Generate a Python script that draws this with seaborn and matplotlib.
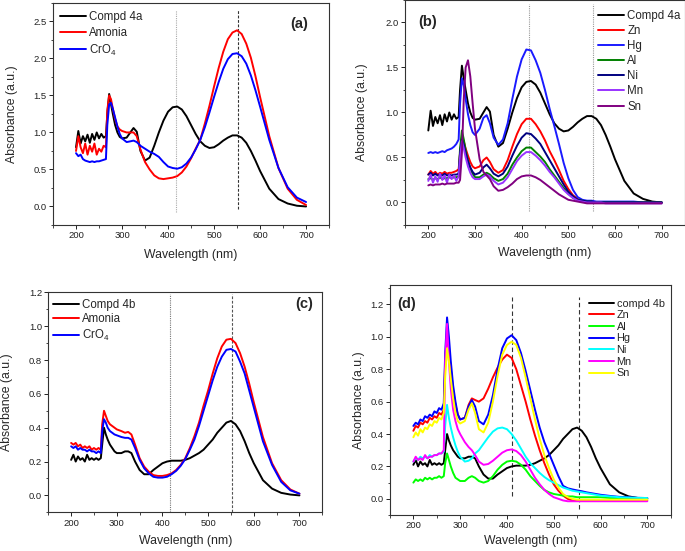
import seaborn as sns
import matplotlib.pyplot as plt
from matplotlib.ticker import MultipleLocator

# wavelength grid (nm) the spectra were read on
wl = [200, 205, 210, 215, 220, 225, 230, 235, 240, 245, 250, 255, 260, 265,
      268, 272, 276, 280, 285, 290, 295, 300, 310, 318, 325, 332, 340,
      350, 360, 370, 380, 390, 400, 410, 420, 430, 440, 450, 460, 470, 480, 490,
      500, 510, 520, 530, 540, 550, 560, 570, 580, 590, 600,
      620, 640, 660, 680, 700]

# ---- panel (a) / (b) : compound 4a
compd_4a = [0.80, 1.02, 0.85, 0.95, 0.88, 0.97, 0.86, 0.98, 0.90, 1.00, 0.92, 0.98, 0.93, 0.95,
            1.25, 1.52, 1.38, 1.25, 1.10, 1.00, 0.94, 0.92, 0.93, 1.00, 1.06, 1.01, 0.75,
            0.62, 0.66, 0.82, 1.00, 1.16, 1.28, 1.34, 1.35, 1.31, 1.22, 1.10, 0.98, 0.88, 0.82, 0.79,
            0.80, 0.84, 0.89, 0.93, 0.96, 0.96, 0.93, 0.86, 0.75, 0.62, 0.48,
            0.24, 0.10, 0.04, 0.01, 0.0]
a_amonia = [0.75, 0.95, 0.80, 0.72, 0.85, 0.70, 0.82, 0.74, 0.85, 0.70, 0.78, 0.74, 0.82, 0.80,
            1.30, 1.50, 1.45, 1.32, 1.18, 1.08, 1.04, 1.02, 1.00, 1.00, 1.00, 0.95, 0.77,
            0.60, 0.50, 0.42, 0.38, 0.37, 0.38, 0.39, 0.41, 0.46, 0.54, 0.65, 0.78, 0.90, 1.12, 1.36,
            1.62, 1.87, 2.09, 2.26, 2.35, 2.38, 2.33, 2.20, 2.01, 1.76, 1.48,
            0.95, 0.52, 0.24, 0.09, 0.02]
a_cro4 = [0.72, 0.68, 0.70, 0.64, 0.62, 0.61, 0.60, 0.61, 0.60, 0.61, 0.61, 0.62, 0.63, 0.64,
          1.10, 1.38, 1.40, 1.32, 1.20, 1.08, 0.98, 0.92, 0.87, 0.88, 0.89, 0.87, 0.82,
          0.78, 0.74, 0.71, 0.67, 0.60, 0.54, 0.52, 0.51, 0.53, 0.58, 0.66, 0.77, 0.90, 1.07, 1.27,
          1.48, 1.68, 1.86, 1.99, 2.06, 2.07, 2.03, 1.93, 1.77, 1.57, 1.35,
          0.90, 0.52, 0.26, 0.12, 0.06]

b_zn = [0.31, 0.35, 0.32, 0.34, 0.31, 0.33, 0.32, 0.34, 0.32, 0.33, 0.33, 0.34, 0.35, 0.37,
        0.55, 0.72, 0.68, 0.60, 0.52, 0.45, 0.40, 0.38, 0.40, 0.47, 0.50, 0.45, 0.37,
        0.33, 0.36, 0.47, 0.62, 0.76, 0.87, 0.93, 0.93, 0.87, 0.79, 0.69, 0.57, 0.47, 0.36, 0.24,
        0.15, 0.08, 0.04, 0.02, 0.01, 0.01, 0.0, 0.0, 0.0, 0.0, 0.0,
        0.0, 0.0, 0.0, 0.0, 0.0]
b_hg = [0.55, 0.56, 0.55, 0.56, 0.55, 0.56, 0.57, 0.56, 0.58, 0.59, 0.60, 0.62, 0.65, 0.70,
        1.10, 1.38, 1.30, 1.15, 0.98, 0.86, 0.78, 0.75, 0.82, 0.94, 0.97, 0.88, 0.72,
        0.64, 0.70, 0.88, 1.15, 1.40, 1.59, 1.70, 1.69, 1.58, 1.44, 1.25, 1.04, 0.85, 0.65, 0.44,
        0.27, 0.14, 0.06, 0.03, 0.02, 0.02, 0.01, 0.01, 0.01, 0.01, 0.01,
        0.01, 0.01, 0.0, 0.0, 0.0]
b_al = [0.26, 0.27, 0.25, 0.27, 0.26, 0.28, 0.26, 0.27, 0.27, 0.28, 0.27, 0.28, 0.28, 0.29,
        0.60, 0.80, 0.70, 0.58, 0.46, 0.38, 0.32, 0.28, 0.28, 0.31, 0.33, 0.31, 0.27,
        0.24, 0.26, 0.32, 0.42, 0.50, 0.57, 0.61, 0.61, 0.56, 0.51, 0.45, 0.37, 0.30, 0.23, 0.16,
        0.10, 0.05, 0.03, 0.02, 0.01, 0.01, 0.0, 0.0, 0.0, 0.0, 0.0,
        0.0, 0.0, 0.0, 0.0, 0.0]
b_ni = [0.31, 0.33, 0.30, 0.32, 0.30, 0.31, 0.30, 0.32, 0.30, 0.31, 0.30, 0.31, 0.31, 0.32,
        0.55, 0.70, 0.64, 0.55, 0.46, 0.39, 0.34, 0.31, 0.33, 0.39, 0.42, 0.38, 0.32,
        0.29, 0.32, 0.40, 0.52, 0.63, 0.72, 0.77, 0.76, 0.71, 0.65, 0.56, 0.47, 0.38, 0.29, 0.20,
        0.12, 0.07, 0.03, 0.02, 0.01, 0.01, 0.0, 0.0, 0.0, 0.0, 0.0,
        0.0, 0.0, 0.0, 0.0, 0.0]
b_mn = [0.24, 0.31, 0.22, 0.29, 0.23, 0.32, 0.25, 0.30, 0.22, 0.31, 0.26, 0.30, 0.24, 0.29,
        0.50, 0.68, 0.60, 0.50, 0.40, 0.33, 0.28, 0.26, 0.26, 0.29, 0.31, 0.29, 0.24,
        0.20, 0.22, 0.28, 0.37, 0.46, 0.52, 0.56, 0.56, 0.52, 0.47, 0.41, 0.34, 0.28, 0.21, 0.14,
        0.09, 0.05, 0.02, 0.01, 0.0, 0.0, 0.0, 0.0, -0.01, -0.01, -0.01,
        -0.01, -0.01, -0.01, -0.01, -0.01]
b_sn = [0.19, 0.20, 0.19, 0.20, 0.20, 0.20, 0.21, 0.20, 0.21, 0.21, 0.21, 0.21, 0.22, 0.22,
        0.25, 0.55, 1.15, 1.50, 1.58, 1.40, 1.10, 0.82, 0.48, 0.34, 0.30, 0.26, 0.18,
        0.13, 0.14, 0.17, 0.21, 0.26, 0.29, 0.30, 0.30, 0.28, 0.25, 0.21, 0.17, 0.13, 0.09, 0.06,
        0.03, 0.02, 0.01, 0.0, -0.01, -0.01, -0.01, -0.01, -0.01, -0.01, -0.01,
        -0.01, -0.01, -0.01, -0.01, -0.01]

# ---- panel (c) / (d) : compound 4b
compd_4b = [0.21, 0.24, 0.20, 0.23, 0.21, 0.22, 0.20, 0.24, 0.21, 0.22, 0.21, 0.22, 0.21, 0.22,
            0.30, 0.40, 0.36, 0.33, 0.30, 0.28, 0.26, 0.25, 0.25, 0.26, 0.26, 0.25, 0.20,
            0.15, 0.125, 0.125, 0.15, 0.17, 0.19, 0.20, 0.205, 0.205, 0.205, 0.21, 0.22, 0.235, 0.25, 0.27,
            0.30, 0.33, 0.37, 0.40, 0.43, 0.44, 0.42, 0.38, 0.32, 0.25, 0.19,
            0.09, 0.04, 0.015, 0.005, 0.0]
c_amonia = [0.31, 0.30, 0.31, 0.29, 0.30, 0.28, 0.29, 0.28, 0.29, 0.27, 0.28, 0.27, 0.28, 0.27,
            0.42, 0.50, 0.47, 0.44, 0.42, 0.41, 0.40, 0.39, 0.38, 0.37, 0.375, 0.36, 0.30,
            0.22, 0.17, 0.14, 0.12, 0.115, 0.115, 0.12, 0.13, 0.15, 0.18, 0.22, 0.28, 0.35, 0.43, 0.53,
            0.62, 0.72, 0.81, 0.88, 0.92, 0.925, 0.90, 0.84, 0.76, 0.66, 0.55,
            0.345, 0.19, 0.09, 0.035, 0.01]
c_cro4 = [0.29, 0.28, 0.29, 0.27, 0.28, 0.27, 0.27, 0.26, 0.27, 0.26, 0.26, 0.25, 0.26, 0.25,
          0.38, 0.45, 0.43, 0.40, 0.38, 0.37, 0.36, 0.355, 0.345, 0.34, 0.34, 0.33, 0.28,
          0.21, 0.16, 0.13, 0.11, 0.105, 0.105, 0.11, 0.125, 0.145, 0.175, 0.215, 0.27, 0.33, 0.41, 0.50,
          0.59, 0.68, 0.76, 0.82, 0.86, 0.865, 0.85, 0.79, 0.72, 0.62, 0.52,
          0.32, 0.18, 0.08, 0.03, 0.01]

d_zn = [0.42, 0.45, 0.44, 0.47, 0.46, 0.48, 0.47, 0.50, 0.49, 0.51, 0.50, 0.53, 0.52, 0.55,
        0.85, 1.02, 0.92, 0.80, 0.67, 0.58, 0.52, 0.49, 0.50, 0.58, 0.62, 0.61, 0.60,
        0.62, 0.68, 0.75, 0.81, 0.86, 0.89, 0.87, 0.80, 0.70, 0.60, 0.49, 0.39, 0.30, 0.22, 0.15,
        0.09, 0.05, 0.02, 0.0, -0.01, -0.01, -0.01, -0.01, -0.01, -0.01, -0.01,
        -0.01, -0.01, -0.01, -0.01, -0.01]
d_al = [0.10, 0.12, 0.11, 0.12, 0.11, 0.13, 0.12, 0.13, 0.12, 0.13, 0.13, 0.14, 0.13, 0.14,
        0.22, 0.28, 0.24, 0.20, 0.16, 0.13, 0.12, 0.11, 0.11, 0.13, 0.14, 0.13, 0.11,
        0.10, 0.11, 0.14, 0.18, 0.21, 0.23, 0.235, 0.23, 0.21, 0.18, 0.14, 0.11, 0.08, 0.055, 0.04,
        0.03, 0.025, 0.02, 0.015, 0.015, 0.01, 0.01, 0.01, 0.01, 0.01, 0.01,
        0.005, 0.005, 0.0, 0.0, 0.0]
d_hg = [0.45, 0.47, 0.46, 0.49, 0.48, 0.51, 0.50, 0.52, 0.51, 0.54, 0.53, 0.56, 0.55, 0.59,
        0.90, 1.12, 1.00, 0.85, 0.70, 0.60, 0.52, 0.49, 0.50, 0.57, 0.61, 0.57, 0.48,
        0.46, 0.52, 0.64, 0.80, 0.93, 0.99, 1.01, 0.98, 0.90, 0.79, 0.67, 0.55, 0.44, 0.35, 0.28,
        0.21, 0.14, 0.08, 0.065, 0.058, 0.052, 0.047, 0.04, 0.035, 0.03, 0.025,
        0.018, 0.012, 0.01, 0.006, 0.005]
d_ni = [0.23, 0.25, 0.24, 0.26, 0.25, 0.26, 0.25, 0.27, 0.26, 0.27, 0.27, 0.28, 0.28, 0.29,
        0.45, 0.58, 0.50, 0.44, 0.38, 0.33, 0.29, 0.26, 0.23, 0.235, 0.25, 0.28, 0.30,
        0.34, 0.38, 0.415, 0.435, 0.44, 0.43, 0.40, 0.36, 0.31, 0.26, 0.22, 0.19, 0.16, 0.135, 0.115,
        0.10, 0.085, 0.07, 0.06, 0.05, 0.045, 0.04, 0.035, 0.03, 0.025, 0.02,
        0.015, 0.01, 0.008, 0.006, 0.005]
d_mn = [0.23, 0.26, 0.24, 0.25, 0.24, 0.27, 0.25, 0.26, 0.26, 0.27, 0.27, 0.28, 0.28, 0.30,
        0.85, 1.08, 0.85, 0.68, 0.55, 0.48, 0.43, 0.40, 0.35, 0.32, 0.30, 0.27, 0.23,
        0.21, 0.215, 0.235, 0.26, 0.285, 0.30, 0.305, 0.295, 0.27, 0.23, 0.18, 0.13, 0.09, 0.055, 0.03,
        0.01, 0.0, -0.01, -0.015, -0.015, -0.015, -0.015, -0.015, -0.015, -0.015, -0.015,
        -0.015, -0.015, -0.015, -0.015, -0.015]
d_sn = [0.38, 0.41, 0.39, 0.43, 0.41, 0.44, 0.43, 0.46, 0.45, 0.48, 0.47, 0.50, 0.49, 0.53,
        0.75, 0.93, 0.85, 0.74, 0.62, 0.53, 0.48, 0.465, 0.48, 0.55, 0.59, 0.53, 0.43,
        0.41, 0.47, 0.60, 0.76, 0.89, 0.95, 0.97, 0.95, 0.87, 0.75, 0.62, 0.49, 0.37, 0.27, 0.19,
        0.12, 0.07, 0.03, 0.01, 0.0, -0.005, -0.005, -0.005, -0.005, -0.005, -0.005,
        -0.005, -0.005, -0.005, -0.005, -0.005]

# reference peak positions (nm)
vlines_a = [418, 551]
vlines_b = [415, 552]
vlines_c = [416, 553]
vlines_d = [411, 553]

sns.set_style('ticks')
plt.rcParams['font.family'] = ['Liberation Sans', 'DejaVu Sans']
plt.rcParams['mathtext.default'] = 'regular'

fig = plt.figure(figsize=(6.85, 5.51), dpi=100)

dots = (0, (1, 1))
fine = (0, (2.5, 1.5))
dash = (0, (4, 2.5))

panels = [
    dict(pos=[0.0774, 0.5917, 0.403, 0.403], ylim=(-0.25, 2.75), ymaj=0.5,
         series=[('Compd 4a', compd_4a, 'black'), ('Amonia', a_amonia, '#ff0000'),
                 ('CrO$_4$', a_cro4, '#0000ff')],
         vl=vlines_a, vly=[(-0.07, 2.65), (-0.03, 2.65)], vlc=['#aaaaaa', '#333333'], vls=[dots, fine],
         tag='(a)', tagxy=(0.891, 0.905), leg=(0.025, 0.964), ls=0.33, lfs=8.3,
         ylab=-0.126, xlab=-0.108),
    dict(pos=[0.5912, 0.5917, 0.4088, 0.4083], ylim=(-0.25, 2.25), ymaj=0.5,
         series=[('Compd 4a', compd_4a, 'black'), ('Zn', b_zn, '#ff0000'), ('Hg', b_hg, '#1a1aff'),
                 ('Al', b_al, '#008000'), ('Ni', b_ni, '#000080'), ('Mn', b_mn, '#9933ff'),
                 ('Sn', b_sn, '#800080')],
         vl=vlines_b, vly=[(-0.1, 2.21), (-0.1, 2.21)], vlc=['#999999', '#999999'], vls=[dots, dots],
         tag='(b)', tagxy=(0.082, 0.904), leg=(0.689, 0.956), ls=0.27, lfs=8.3,
         ylab=-0.132, xlab=-0.1),
    dict(pos=[0.0705, 0.0702, 0.4, 0.3993], ylim=(-0.1, 1.2), ymaj=0.2,
         series=[('Compd 4b', compd_4b, 'black'), ('Amonia', c_amonia, '#ff0000'),
                 ('CrO$_4$', c_cro4, '#0000ff')],
         vl=vlines_c, vly=[(-0.1, 1.19), (-0.1, 1.19)], vlc=['#777777', '#555555'], vls=[dots, fine],
         tag='(c)', tagxy=(0.935, 0.945), leg=(0.016, 0.971), ls=0.22, lfs=8.3,
         ylab=-0.129, xlab=-0.105),
    dict(pos=[0.5693, 0.0653, 0.4098, 0.4174], ylim=(-0.1, 1.32), ymaj=0.2,
         series=[('compd 4b', compd_4b, 'black'), ('Zn', d_zn, '#ff0000'), ('Al', d_al, '#00ff00'),
                 ('Hg', d_hg, '#0000ff'), ('Ni', d_ni, '#00ffff'), ('Mn', d_mn, '#ff00ff'),
                 ('Sn', d_sn, '#ffff00')],
         vl=vlines_d, vly=[(0.017, 1.245), (-0.06, 1.245)], vlc=['#333333', '#333333'], vls=[dash, dash],
         tag='(d)', tagxy=(0.061, 0.916), leg=(0.709, 0.941), ls=0.15, lfs=7.8,
         ylab=-0.089, xlab=-0.085),
]

for p in panels:
    ax = fig.add_axes(p['pos'])
    for x, (y0, y1), c, s in zip(p['vl'], p['vly'], p['vlc'], p['vls']):
        ax.vlines(x, y0, y1, colors=c, linestyles=[s], lw=0.8)
    for name, vals, col in p['series']:
        sns.lineplot(x=wl, y=vals, color=col, label=name, ax=ax, lw=1.4)
    ax.set_xlim(150, 750)
    ax.set_ylim(*p['ylim'])
    ax.xaxis.set_major_locator(MultipleLocator(100))
    ax.xaxis.set_minor_locator(MultipleLocator(50))
    ax.yaxis.set_major_locator(MultipleLocator(p['ymaj']))
    ax.yaxis.set_minor_locator(MultipleLocator(p['ymaj'] / 2))
    ax.yaxis.set_major_formatter(plt.FormatStrFormatter('%.1f'))
    ax.tick_params(which='major', direction='out', length=3, width=0.7, labelsize=6.8, pad=1.5,
                   colors='#222222')
    ax.tick_params(which='minor', direction='out', length=1.8, width=0.6)
    for sp in ax.spines.values():
        sp.set_linewidth(0.8)
        sp.set_color('#333333')
    ax.set_xlabel('Wavelength (nm)', fontsize=8.8)
    ax.set_ylabel('Absorbance (a.u.)', fontsize=8.8)
    ax.xaxis.set_label_coords(0.5, p['xlab'])
    ax.yaxis.set_label_coords(p['ylab'], 0.5)
    ax.text(*p['tagxy'], p['tag'], transform=ax.transAxes, fontsize=10.5, fontweight='bold',
            ha='center', va='center')
    ax.legend(loc='upper left', bbox_to_anchor=p['leg'], frameon=False, fontsize=p['lfs'],
              handlelength=2.3, handletextpad=0.25, labelspacing=p['ls'], borderpad=0,
              borderaxespad=0)

fig.savefig('out.png', dpi=100)
